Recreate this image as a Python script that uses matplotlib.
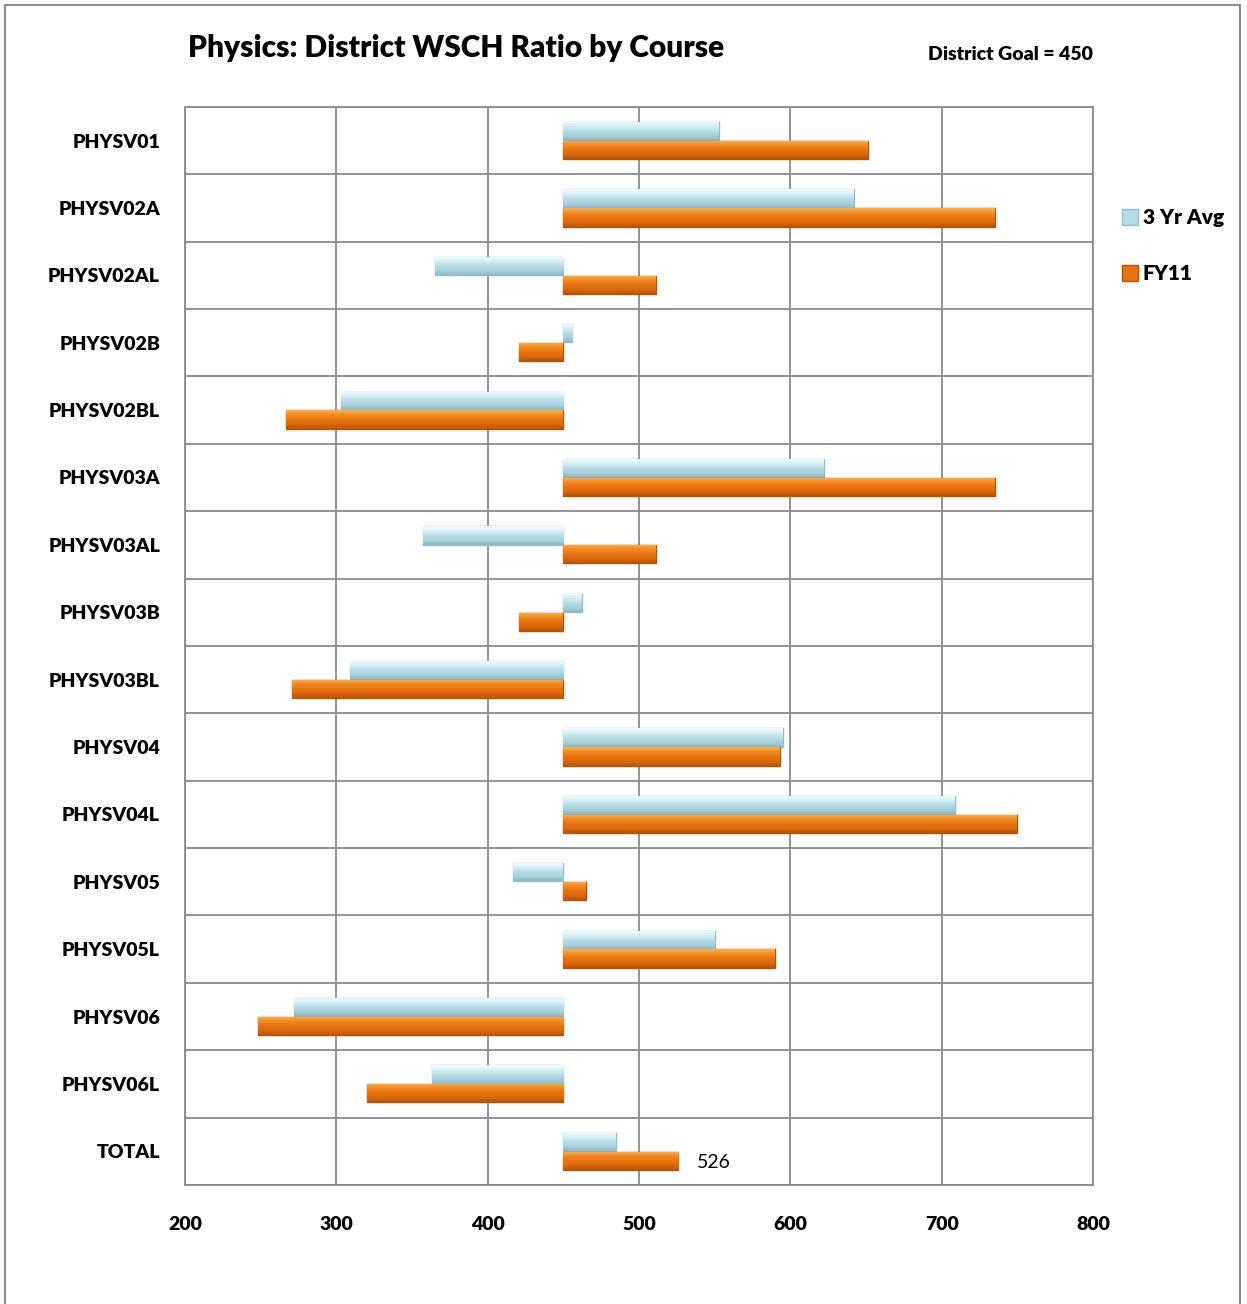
import matplotlib
matplotlib.use("Agg")
import matplotlib.pyplot as plt
from matplotlib.patches import Rectangle
from matplotlib.lines import Line2D
from matplotlib.colors import LinearSegmentedColormap
import numpy as np

plt.rcParams['font.family'] = ['Lato', 'DejaVu Sans']

courses = ["PHYSV01", "PHYSV02A", "PHYSV02AL", "PHYSV02B", "PHYSV02BL",
           "PHYSV03A", "PHYSV03AL", "PHYSV03B", "PHYSV03BL", "PHYSV04",
           "PHYSV04L", "PHYSV05", "PHYSV05L", "PHYSV06", "PHYSV06L", "TOTAL"]
avg_3yr = [553, 642, 365, 456, 303, 622, 357, 462, 309, 595, 709, 417, 550, 272, 363, 485]
fy11 = [651, 735, 511, 421, 267, 735, 511, 421, 271, 593, 750, 465, 590, 248, 320, 526]
goal = 450

fig = plt.figure(figsize=(12.47, 13.04), dpi=100)
ax = fig.add_axes([0.1484, 0.0913, 0.7281, 0.8267])

y = np.arange(len(courses))
h = 0.27
avg_w = [v - goal for v in avg_3yr]
fy_w = [v - goal for v in fy11]

blue_grad = LinearSegmentedColormap.from_list(
    "b", ["#f2fcff", "#d6f0f6", "#b9dde7", "#a9d1dc", "#8dbac7"])
orange_grad = LinearSegmentedColormap.from_list(
    "o", ["#fbb050", "#f28c22", "#e8730f", "#dd690b", "#b9560a"])
grad = np.linspace(0, 1, 64).reshape(-1, 1)

# bars get a vertical gradient clipped to each bar (bevel look)
for off, w, cmap, edge, lab in [(-0.14, avg_w, blue_grad, "#8fbfcc", "3 Yr Avg"),
                                (0.14, fy_w, orange_grad, "#b25407", "FY11")]:
    bars = ax.barh(y + off, w, left=goal, height=h, color=cmap(0.5), edgecolor=edge,
                   linewidth=1.0, label=lab, zorder=3)
    for b in bars:
        x0, y0, bw, bh = b.get_x(), b.get_y(), b.get_width(), b.get_height()
        im = ax.imshow(grad, extent=[x0, x0 + bw, y0, y0 + bh], origin="lower",
                       aspect="auto", cmap=cmap, zorder=3.5, interpolation="bilinear")
        im.set_clip_path(b)

ax.set_xlim(200, 800)
ax.set_ylim(len(courses) - 0.5, -0.5)
ax.set_aspect("auto")
ax.set_xticks(range(200, 801, 100))
ax.set_yticks(y)
ax.set_yticklabels(courses, fontsize=14, fontweight="heavy")
for lbl in ax.get_xticklabels():
    lbl.set_fontsize(14)
    lbl.set_fontweight("heavy")
ax.tick_params(length=0)
ax.tick_params(axis="x", pad=22)
ax.tick_params(axis="y", pad=18)

ax.set_yticks(np.arange(-0.5, len(courses), 1), minor=True)
ax.grid(True, axis="x", color="#8a8a8a", linewidth=1.3, zorder=0)
ax.grid(True, axis="y", which="minor", color="#8a8a8a", linewidth=1.3, zorder=0)
ax.tick_params(which="minor", length=0)
for s in ax.spines.values():
    s.set_color("#8a8a8a")
    s.set_linewidth(1.3)

ax.text(fy11[-1] + 12, y[-1] + 0.16, str(fy11[-1]), va="center", ha="left", fontsize=14)

fig.text(0.151, 0.963, "Physics: District WSCH Ratio by Course", fontsize=21.5,
         fontweight="heavy", ha="left", va="center")
fig.text(0.744, 0.958, "District Goal = 450", fontsize=14,
         fontweight="heavy", ha="left", va="center")

handles = [Line2D([], [], marker="s", linestyle="none", markersize=11,
                  markerfacecolor="#b7dce6", markeredgecolor="#8fbfcc"),
           Line2D([], [], marker="s", linestyle="none", markersize=11,
                  markerfacecolor="#e8730f", markeredgecolor="#b25407")]
fig.legend(handles, ["3 Yr Avg", "FY11"], loc="upper left",
           bbox_to_anchor=(0.883, 0.855), frameon=False,
           prop={"weight": "heavy", "size": 15}, handletextpad=0.1,
           labelspacing=1.8, handlelength=1.0)

fig.patches.append(Rectangle((0.004, -0.01), 0.99, 1.006, transform=fig.transFigure,
                             fill=False, edgecolor="#8c8c8c", linewidth=1.5))

fig.savefig("out.png", dpi=100)
